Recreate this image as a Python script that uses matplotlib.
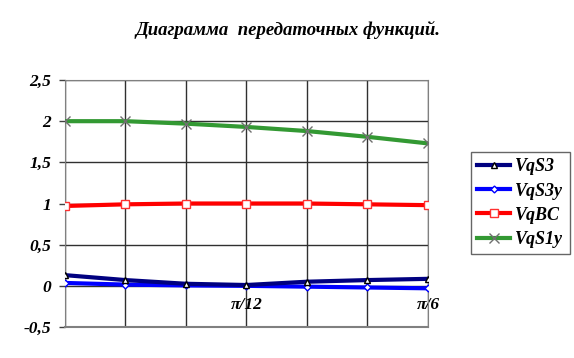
import matplotlib
matplotlib.use("Agg")
import matplotlib.pyplot as plt
from matplotlib.lines import Line2D

categories = ["", "", "", "π/12", "", "", "π/6"]
vqs3 = [0.13, 0.07, 0.025, 0.01, 0.05, 0.07, 0.085]
vqs3y = [0.035, 0.015, 0.005, 0.0, -0.01, -0.02, -0.03]
vqbc = [0.97, 0.99, 1.0, 1.0, 1.0, 0.99, 0.98]
vqs1y = [2.0, 2.0, 1.97, 1.93, 1.88, 1.81, 1.73]
yticks = [-0.5, 0, 0.5, 1, 1.5, 2, 2.5]
ylabels = ["-0,5", "0", "0,5", "1", "1,5", "2", "2,5"]

font = dict(family=["Liberation Serif", "DejaVu Serif"], weight="bold", style="italic")

fig = plt.figure(figsize=(5.74, 3.58), dpi=100)
ax = fig.add_axes([0.1132, 0.0866, 0.6324, 0.6899])
x = list(range(len(categories)))

ax.spines["bottom"].set_position(("data", 0))
ax.spines["bottom"].set_visible(False)

ax.plot(x, vqs1y, color="#339933", lw=3, marker="x", ms=7, mec="#707070", mew=1, label="VqS1y", zorder=3)
ax.plot(x, vqbc, color="#ff0000", lw=3, marker="s", ms=6, mfc="white", mec="#ff3030", mew=1, label="VqBC", zorder=3)
ax.plot(x, vqs3y, color="#0000ff", lw=3, marker="D", ms=3.5, mfc="white", mec="#0000ff", mew=1, label="VqS3y", zorder=3)
ax.plot(x, vqs3, color="#000080", lw=3, marker="^", ms=4.5, mfc="white", mec="black", mew=1, label="VqS3", zorder=4)

ax.set_xlim(0, 6)
ax.set_ylim(-0.5, 2.5)
ax.set_yticks(yticks)
ax.set_yticklabels(ylabels, fontsize=12.5, **font)
ax.set_xticks(x)
ax.set_xticklabels(categories, fontsize=12.5, **font)
ax.tick_params(axis="y", length=4, width=1, color="#404040", pad=6)
ax.tick_params(axis="x", length=0, pad=8)
ax.grid(True, color="#303030", lw=1)
for s in ["top", "right", "left"]:
    ax.spines[s].set_color("#808080")
ax.axhline(-0.5, color="#808080", lw=1.5, clip_on=False)
ax.set_axisbelow(True)

fig.text(0.502, 0.915, "Диаграмма  передаточных функций.", ha="center", va="center", fontsize=13.5, **font)

handles = [
    Line2D([], [], color="#000080", lw=3, marker="^", ms=4.5, mfc="white", mec="black"),
    Line2D([], [], color="#0000ff", lw=3, marker="D", ms=3.5, mfc="white", mec="#0000ff"),
    Line2D([], [], color="#ff0000", lw=3, marker="s", ms=6, mfc="white", mec="#ff3030"),
    Line2D([], [], color="#339933", lw=3, marker="x", ms=7, mec="#707070"),
]
leg = fig.legend(handles, ["VqS3", "VqS3y", "VqBC", "VqS1y"], loc="upper left",
                 bbox_to_anchor=(471 / 574, 1 - 152 / 358), prop=dict(size=13, **font),
                 frameon=True, fancybox=False, edgecolor="#404040", handlelength=1.8,
                 handletextpad=0.3, borderpad=0.35, labelspacing=0.4, borderaxespad=0)
leg.get_frame().set_linewidth(1)

fig.savefig("out.png", dpi=100)
